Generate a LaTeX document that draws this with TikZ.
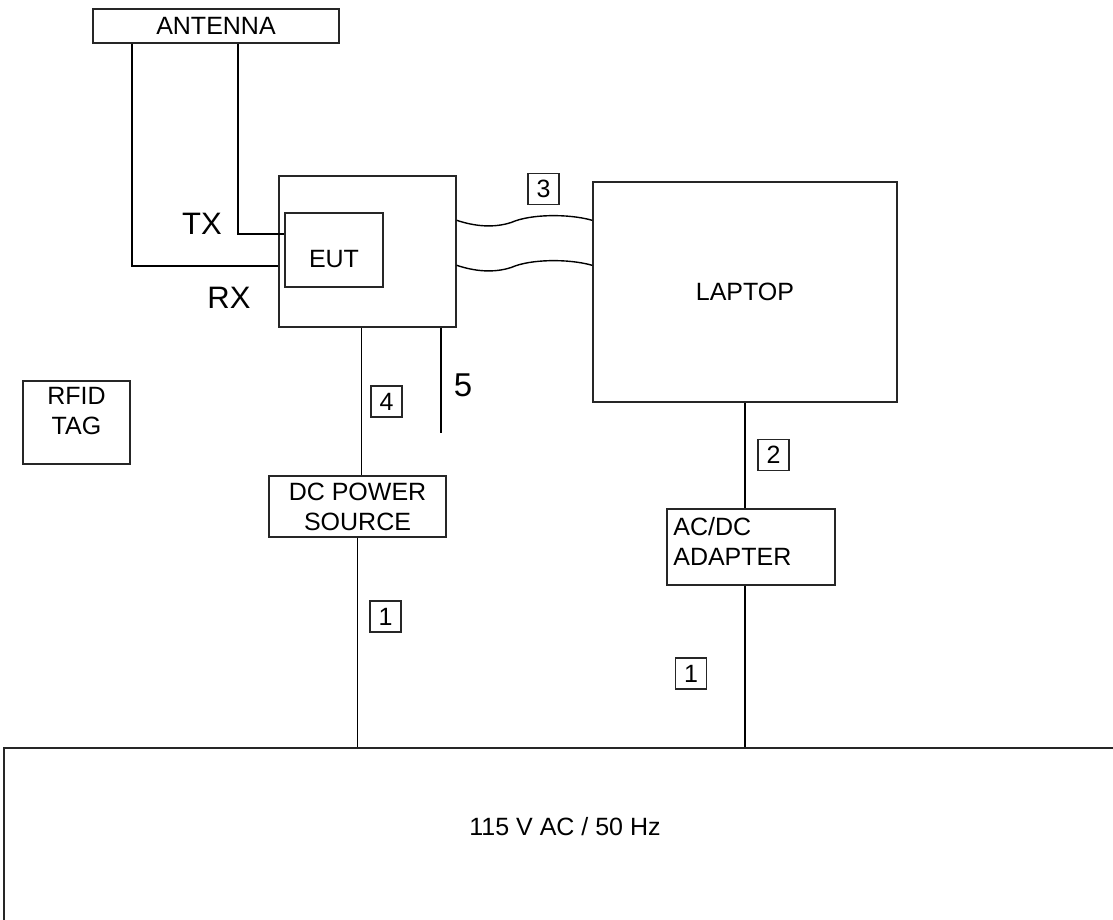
\documentclass[tikz,border=0pt]{standalone}
\usepackage{fontspec}
\setmainfont{Liberation Sans}
\usetikzlibrary{calc}

\begin{document}
\begin{tikzpicture}[x=1pt,y=-1pt,font=\fontsize{25}{30}\selectfont,line width=1.4pt,
  box/.style={draw=black!85,inner sep=0pt},
  numbox/.style={draw=black!85,minimum width=31pt,minimum height=31pt,inner sep=0pt},
  bigtxt/.style={font=\fontsize{31}{36}\selectfont}]
\useasboundingbox (0,0) rectangle (1113,919);
\clip (0,0) rectangle (1113,919);
% antenna and EUT
\node[box,minimum width=246pt,minimum height=34pt] (antenna) at (216,26) {ANTENNA};
\node[box,minimum width=177pt,minimum height=151pt] (device) at (367.5,251.5) {};
\node[box,minimum width=98pt,minimum height=74pt,label={[yshift=-9pt]center:EUT}] (eut) at (334,250) {};
\node[bigtxt] (txlbl) at (202,224) {TX};
\node[bigtxt] (rxlbl) at (229,298) {RX};
% laptop side
\node[box,minimum width=304pt,minimum height=220pt] (laptop) at (745,292) {LAPTOP};
\node[box,minimum width=168pt,minimum height=76pt,
  label={[anchor=west,align=left,xshift=3pt,yshift=6pt]west:AC/DC\\ADAPTER}] (adapter) at (751,547) {};
% left side
\node[box,minimum width=107pt,minimum height=83pt,
  label={[align=center,yshift=11pt]center:RFID\\TAG}] (rfid) at (76.5,422.5) {};
\node[box,minimum width=177pt,minimum height=61pt,align=center] (dcps) at (357.5,506.5) {DC POWER\\SOURCE};
\node[font=\fontsize{33}{38}\selectfont] (fivelbl) at (463,385) {5};
% mains
\node[box,minimum width=1200pt,minimum height=200pt,
  label={[xshift=-39pt,yshift=21pt]center:115 V AC / 50 Hz}] (mains) at (604,848) {};
% cable numbers
\foreach \nm/\t/\px/\py in {nthree/3/543.5/189,nfour/4/386.5/401.5,ntwo/2/773.5/455,
  nonea/1/385.5/616.5,noneb/1/691/673.5}
  \node[numbox] (\nm) at (\px,\py) {\t};
% antenna leads
\coordinate (rxbend) at (132,266);
\coordinate (txbend) at (238,234);
\draw (antenna.south -| rxbend) -- (rxbend) -- (rxbend -| device.west);
\draw (antenna.south -| txbend) -- (txbend) -- (txbend -| eut.west);
% cable 3
\foreach \dy in {45,90}
  \draw ($(device.north east)+(0,\dy)$) .. controls +(18,6) and +(-18,6) .. ++(55,2)
    .. controls +(18,-8) and +(-25,-7) .. ($(laptop.north west)+(0,\dy-6)$);
% power leads
\coordinate (fiveend) at (441,433);
\draw ([xshift=4pt]device.south -| dcps.north) -- ([xshift=4pt]dcps.north);
\draw (device.south -| fiveend) -- (fiveend);
\draw (dcps.south) -- (dcps.south |- mains.north);
\draw (laptop.south) -- (laptop.south |- adapter.north);
\draw (adapter.south -| laptop.south) -- (laptop.south |- mains.north);
\end{tikzpicture}
\end{document}
